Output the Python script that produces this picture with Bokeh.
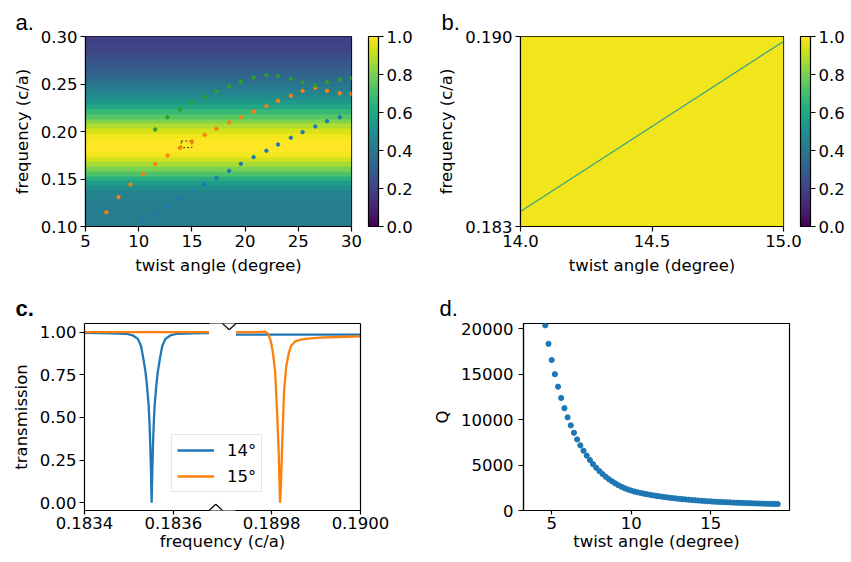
import numpy as np
from bokeh.plotting import figure
from bokeh.layouts import column, row
from bokeh.models import (LinearColorMapper, ColorBar, FixedTicker, PrintfTickFormatter,
                          Range1d, LinearAxis, Legend, LegendItem, PolyAnnotation, Arrow)
from bokeh.palettes import Viridis256
from bokeh.embed import file_html
from bokeh.resources import INLINE

# ------------------------------------------------------------------ data
# panel a : background transmission (colour value) versus frequency, read every 0.005 c/a
a_bg_freq = [0.100, 0.105, 0.110, 0.115, 0.120, 0.125, 0.130, 0.135, 0.140, 0.145,
             0.150, 0.155, 0.160, 0.165, 0.170, 0.175, 0.180, 0.185, 0.190, 0.195,
             0.200, 0.205, 0.210, 0.215, 0.220, 0.225, 0.230, 0.235, 0.240, 0.245,
             0.250, 0.255, 0.260, 0.265, 0.270, 0.275, 0.280, 0.285, 0.290, 0.295, 0.300]
a_bg = [0.42, 0.42, 0.42, 0.42, 0.43, 0.43, 0.44, 0.45, 0.49, 0.55,
        0.63, 0.72, 0.80, 0.87, 0.93, 0.98, 1.00, 1.00, 1.00, 0.98,
        0.94, 0.88, 0.81, 0.74, 0.67, 0.60, 0.54, 0.49, 0.45, 0.41,
        0.38, 0.35, 0.32, 0.29, 0.27, 0.25, 0.23, 0.21, 0.20, 0.19, 0.18]

a_orange_angle = [6.97, 8.1, 9.23, 10.4, 11.55, 12.7, 13.86, 15.0, 16.2, 17.3, 18.5,
                  19.6, 20.8, 22.0, 23.1, 24.3, 25.4, 26.6, 27.7, 28.9, 30.0]
a_orange_freq = [0.115, 0.131, 0.1442, 0.1555, 0.166, 0.1747, 0.1828, 0.1895, 0.1965, 0.2028, 0.2095,
                 0.215, 0.221, 0.2267, 0.2323, 0.2376, 0.2428, 0.246, 0.2428, 0.2403, 0.2397]
a_blue_angle = [10.4, 11.55, 12.7, 13.86, 15.0, 16.2, 17.3, 18.5, 19.6, 20.8, 22.0,
                23.1, 24.3, 25.4, 26.6, 27.7, 28.9]
a_blue_freq = [0.1063, 0.114, 0.121, 0.1292, 0.1368, 0.1442, 0.1512, 0.1586, 0.166, 0.173, 0.1797,
               0.1863, 0.1934, 0.1993, 0.2053, 0.2109, 0.215]
a_green_angle = [11.55, 12.7, 13.86, 15.0, 16.2, 17.3, 18.5, 19.6, 20.8, 22.0, 23.1,
                 24.3, 25.4, 26.6, 27.7, 28.9, 30.0]
a_green_freq = [0.2021, 0.215, 0.2232, 0.2302, 0.2365, 0.2424, 0.2477, 0.2526, 0.2568, 0.2593, 0.2586,
                0.2555, 0.2516, 0.2484, 0.2519, 0.2547, 0.256]
a_xlim = [5, 30]
a_ylim = [0.10, 0.30]
a_xticks = [5, 10, 15, 20, 25, 30]
a_yticks = [0.10, 0.15, 0.20, 0.25, 0.30]

# panel b : zoom on the dotted box of panel a
b_xlim = [14.0, 15.0]
b_ylim = [0.183, 0.190]
b_xticks = [14.0, 14.5, 15.0]
b_yticks = [0.183, 0.190]
b_level = 0.98
b_line_angle = [14.0, 15.0]
b_line_freq = [0.18355, 0.18982]

cb_ticks = [0.0, 0.2, 0.4, 0.6, 0.8, 1.0]

# panel c : transmission spectra with a broken frequency axis
c_left_lim = [0.18340, 0.18368]
c_right_lim = [0.18972, 0.19000]
c_ylim = [-0.045, 1.05]
c_yticks = [0.00, 0.25, 0.50, 0.75, 1.00]
c_xticks_left = [0.1834, 0.1836]
c_xticks_right = [0.1898, 0.1900]
c_xlabels_left = ["0.1834", "0.1836"]
c_xlabels_right = ["0.1898", "0.1900"]

c14_left_f = [0.183400, 0.183459, 0.183493, 0.183509, 0.183520, 0.183527, 0.183532, 0.183537,
              0.183540, 0.183544, 0.183546, 0.1835478, 0.1835494, 0.1835503, 0.183551,
              0.1835517, 0.1835526, 0.1835542, 0.183556, 0.183558, 0.183562, 0.183565,
              0.183570, 0.183575, 0.183582, 0.183593, 0.183609, 0.183643, 0.183680]
c14_left_t = [0.995, 0.993, 0.99, 0.98, 0.96, 0.92, 0.85, 0.77,
              0.70, 0.58, 0.48, 0.35, 0.20, 0.08, 0.0,
              0.08, 0.20, 0.35, 0.48, 0.58, 0.70, 0.77,
              0.85, 0.92, 0.96, 0.98, 0.99, 0.993, 0.994]
c14_right_f = [0.18972, 0.19000]
c14_right_t = [0.985, 0.985]
c15_left_f = [0.18340, 0.18368]
c15_left_t = [0.999, 0.999]
c15_right_f = [0.18972, 0.189762, 0.189785, 0.189792, 0.189798, 0.189803, 0.189808, 0.189812,
               0.189816, 0.189818, 0.189819, 0.189821, 0.189824, 0.189828, 0.189833, 0.189839,
               0.189844, 0.189853, 0.189865, 0.189887, 0.189910, 0.189945, 0.190000]
c15_right_t = [1.0, 1.0, 1.002, 0.99, 0.95, 0.88, 0.77, 0.55,
               0.30, 0.10, 0.0, 0.10, 0.35, 0.65, 0.80, 0.88,
               0.92, 0.945, 0.955, 0.963, 0.967, 0.971, 0.975]
c_legend = ["14°", "15°"]

# panel d : quality factor versus twist angle
d_angle = [4.6, 4.8, 5.0, 5.2, 5.4, 5.6, 5.8, 6.0, 6.2, 6.4, 6.6, 6.8, 7.0, 7.2, 7.4, 7.6, 7.8,
           8.0, 8.2, 8.4, 8.6, 8.8, 9.0, 9.2, 9.4, 9.6, 9.8, 10.0, 10.2, 10.4, 10.6, 10.8,
           11.0, 11.2, 11.4, 11.6, 11.8, 12.0, 12.2, 12.4, 12.6, 12.8, 13.0, 13.2, 13.4,
           13.6, 13.8, 14.0, 14.2, 14.4, 14.6, 14.8, 15.0, 15.2, 15.4, 15.6, 15.8, 16.0,
           16.2, 16.4, 16.6, 16.8, 17.0, 17.2, 17.4, 17.6, 17.8, 18.0, 18.2, 18.4, 18.6,
           18.8, 19.0, 19.2]
d_q = [20400, 18360, 16580, 15020, 13640, 12400, 11270, 10260, 9380, 8560, 7830, 7180, 6590,
       6050, 5560, 5100, 4700, 4340, 4010, 3710, 3440, 3200, 2980, 2780, 2600, 2440, 2310,
       2200, 2090, 2005, 1930, 1855, 1785, 1720, 1660, 1605, 1552, 1502, 1455, 1410, 1366,
       1325, 1287, 1252, 1218, 1187, 1157, 1128, 1100, 1073, 1046, 1020, 997, 977, 958, 940,
       922, 905, 889, 873, 858, 844, 830, 817, 804, 792, 780, 769, 758, 748, 739, 730, 722, 715]
d_xlim = [3.23, 19.94]
d_ylim = [0, 20600]
d_xticks = [5, 10, 15]
d_yticks = [0, 5000, 10000, 15000, 20000]

# ------------------------------------------------------------------ style
FONT = "DejaVu Sans"
FS = "16.5px"
LAB_FONT = "Liberation Sans"
BLUE, ORANGE, GREEN = "#1f77b4", "#ff7f0e", "#2ca02c"


def base_fig(w, h, xr, yr, ml, mr, mt, mb):
    p = figure(width=w, height=h, x_range=Range1d(*xr), y_range=Range1d(*yr),
               output_backend="svg", toolbar_location=None,
               min_border_left=ml, min_border_right=mr, min_border_top=mt, min_border_bottom=mb)
    p.xgrid.visible = False
    p.ygrid.visible = False
    p.outline_line_color = "black"
    p.outline_line_width = 1.2
    p.border_fill_color = "white"
    return p


def style_axis(ax, label, ticks=None, fmt=None, standoff=3, label_standoff=6, tick_out=5):
    ax.axis_label = label
    ax.axis_label_text_font = FONT
    ax.axis_label_text_font_size = FS
    ax.axis_label_text_font_style = "normal"
    ax.axis_label_text_color = "black"
    ax.axis_label_standoff = label_standoff
    ax.major_label_text_font = FONT
    ax.major_label_text_font_size = FS
    ax.major_label_text_color = "black"
    ax.major_label_standoff = standoff
    ax.major_tick_in = 0
    ax.major_tick_out = tick_out
    ax.minor_tick_in = 0
    ax.minor_tick_out = 0
    ax.axis_line_color = "black"
    ax.axis_line_width = 1.2
    ax.major_tick_line_color = "black"
    ax.major_tick_line_width = 1.2
    if ticks is not None:
        ax.ticker = FixedTicker(ticks=ticks)
    if fmt is not None:
        ax.formatter = PrintfTickFormatter(format=fmt)


def panel_label(p, text, offset, bold=False, standoff=4):
    p.title.text = text
    p.title.align = "left"
    p.title.offset = offset
    p.title.text_font = LAB_FONT
    p.title.text_font_size = "22px"
    p.title.text_font_style = "bold" if bold else "normal"
    p.title.text_color = "black"
    p.title.standoff = standoff


def make_colorbar(mapper, **kw):
    return ColorBar(color_mapper=mapper, ticker=FixedTicker(ticks=cb_ticks),
                    formatter=PrintfTickFormatter(format="%.1f"),
                    width=10, padding=0, margin=0,
                    major_tick_in=0, major_tick_out=5, major_tick_line_color="black",
                    major_tick_line_width=1.2, minor_tick_line_color=None,
                    bar_line_color="black", bar_line_width=1.2,
                    major_label_text_font=FONT, major_label_text_font_size=FS,
                    major_label_text_color="black", label_standoff=3,
                    background_fill_alpha=0, border_line_color=None, **kw)


mapper = LinearColorMapper(palette=Viridis256, low=0, high=1)

# ------------------------------------------------------------------ panel a
pa = base_fig(430, 290, a_xlim, a_ylim, 85, 79, 36, 64)
step = a_bg_freq[1] - a_bg_freq[0]
img_a = np.tile(np.array(a_bg)[:, None], (1, 2))
pa.image(image=[img_a], x=a_xlim[0], y=a_bg_freq[0] - step / 2,
         dw=a_xlim[1] - a_xlim[0], dh=a_bg_freq[-1] - a_bg_freq[0] + step, color_mapper=mapper)
pa.quad(left=b_xlim[0], right=b_xlim[1], bottom=b_ylim[0], top=b_ylim[1],
        fill_color=None, line_color="#333333", line_dash="2 2", line_width=1)
pa.scatter(a_blue_angle, a_blue_freq, size=3.4, color=BLUE)
pa.scatter(a_orange_angle, a_orange_freq, size=3.4, color=ORANGE)
pa.scatter(a_green_angle, a_green_freq, size=3.4, color=GREEN)
style_axis(pa.xaxis[0], "twist angle (degree)", a_xticks, "%d")
style_axis(pa.yaxis[0], "frequency (c/a)", a_yticks, "%.2f")
cba = make_colorbar(mapper, location=(17, 0))
pa.add_layout(cba, "right")
panel_label(pa, "a.", -70)

# ------------------------------------------------------------------ panel b
pb = base_fig(417, 290, b_xlim, b_ylim, 90, 64, 36, 64)
pb.image(image=[np.full((2, 2), b_level)], x=b_xlim[0], y=b_ylim[0],
         dw=b_xlim[1] - b_xlim[0], dh=b_ylim[1] - b_ylim[0], color_mapper=mapper)
pb.line(b_line_angle, b_line_freq, line_color="#35a48a", line_width=1.2)
style_axis(pb.xaxis[0], "twist angle (degree)", b_xticks, "%.1f")
style_axis(pb.yaxis[0], "frequency (c/a)", b_yticks, "%.3f")
cbb = make_colorbar(mapper, location=(263 + 17, 0), height=190)
pb.add_layout(cbb)
panel_label(pb, "b.", -79)

# ------------------------------------------------------------------ panel c (broken axis)
span_l = c_left_lim[1] - c_left_lim[0]
span_r = c_right_lim[1] - c_right_lim[0]
c_gap = span_l * 27.0 / 124.5
cW = span_l + c_gap + span_r
cx0, cx1 = c_left_lim[0], c_left_lim[0] + cW
pc = base_fig(430, 266, [cx0, cx1], c_ylim, 84, 70, 32, 46)
pc.outline_line_color = None
pc.extra_x_ranges = {"right": Range1d(c_right_lim[1] - cW, c_right_lim[1])}

r14a = pc.line(c14_left_f, c14_left_t, line_color=BLUE, line_width=2.3)
r15a = pc.line(c15_left_f, c15_left_t, line_color=ORANGE, line_width=2.3)
r14b = pc.line(c14_right_f, c14_right_t, line_color=BLUE, line_width=2.3, x_range_name="right")
r15b = pc.line(c15_right_f, c15_right_t, line_color=ORANGE, line_width=2.3, x_range_name="right")

shift = cx1 - c_right_lim[1]
right_tick_pos = [min(t + shift, cx1 - 1e-10) for t in c_xticks_right]
all_ticks = c_xticks_left + right_tick_pos
style_axis(pc.xaxis[0], "frequency (c/a)", all_ticks, None, standoff=2, label_standoff=0, tick_out=4)
pc.xaxis[0].major_label_overrides = dict(zip(all_ticks, c_xlabels_left + c_xlabels_right))
style_axis(pc.yaxis[0], "transmission", c_yticks, "%.2f")
for side in ("above", "right"):
    ax = LinearAxis(ticker=FixedTicker(ticks=[]), major_tick_out=0, major_tick_in=0,
                    minor_tick_out=0, minor_tick_in=0, major_label_standoff=0,
                    axis_line_color="black", axis_line_width=1.2)
    pc.add_layout(ax, side)

sx = cW / 276.0
sy = (c_ylim[1] - c_ylim[0]) / 188.0
gl, gr = c_left_lim[1], c_left_lim[1] + c_gap
for yb in (c_ylim[1], c_ylim[0]):
    pc.add_layout(PolyAnnotation(xs=[gl + 0.6 * sx, gr - 0.6 * sx, gr - 0.6 * sx, gl + 0.6 * sx],
                                 ys=[yb - 3 * sy, yb - 3 * sy, yb + 3 * sy, yb + 3 * sy],
                                 fill_color="white", fill_alpha=1.0, line_color=None))
    pts = [(gl, yb), (gl + 0.25 * c_gap, yb + 6.3 * sy), (gl + 0.75 * c_gap, yb - 6.3 * sy), (gr, yb)]
    for (xa, ya), (xb, yb2) in zip(pts[:-1], pts[1:]):
        pc.add_layout(Arrow(end=None, x_start=xa, y_start=ya, x_end=xb, y_end=yb2,
                            line_color="black", line_width=1.2))

leg = Legend(items=[LegendItem(label=c_legend[0], renderers=[r14a]),
                    LegendItem(label=c_legend[1], renderers=[r15a])],
             location=(87, 18), margin=0, padding=5, spacing=6,
             glyph_width=37, glyph_height=20, label_height=20, label_standoff=13,
             label_text_font=FONT, label_text_font_size=FS, label_text_color="black",
             border_line_color="#cccccc", border_line_width=1,
             background_fill_color="white", background_fill_alpha=0.8)
pc.add_layout(leg)
panel_label(pc, "c.", -69, bold=True, standoff=6)

# ------------------------------------------------------------------ panel d
pdq = base_fig(417, 266, d_xlim, d_ylim, 92, 58, 32, 46)
pdq.scatter(d_angle, d_q, size=5.2, color=BLUE)
style_axis(pdq.xaxis[0], "twist angle (degree)", d_xticks, "%d", standoff=2, label_standoff=0, tick_out=4)
style_axis(pdq.yaxis[0], "Q", d_yticks, "%d", standoff=5)
panel_label(pdq, "d.", -84, standoff=6)

layout = column(row(pa, pb), row(pc, pdq))
open("out.html", "w").write(file_html(layout, INLINE))
